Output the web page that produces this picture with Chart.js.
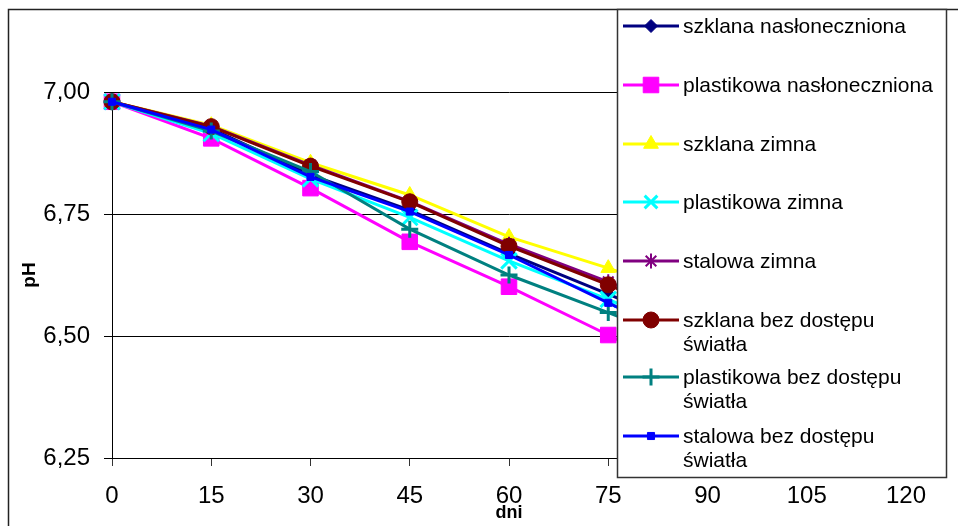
<!DOCTYPE html>
<html>
<head>
<meta charset="utf-8">
<script src="https://cdn.jsdelivr.net/npm/chart.js@4/dist/chart.umd.min.js"></script>
<style>
  html, body { margin: 0; padding: 0; background: #fff; }
  #wrap { width: 958px; height: 526px; position: relative; }
</style>
</head>
<body>
<div id="wrap"><canvas id="c" width="958" height="526"></canvas></div>
<script>
// ---- data ----
const days = [0, 15, 30, 45, 60, 75, 90];
const seriesNames = [
  'szklana nasłoneczniona',
  'plastikowa nasłoneczniona',
  'szklana zimna',
  'plastikowa zimna',
  'stalowa zimna',
  'szklana bez dostępu\nświatła',
  'plastikowa bez dostępu\nświatła',
  'stalowa bez dostępu\nświatła'
];
const szklanaNaslon   = [6.98, 6.925, 6.830, 6.758, 6.669, 6.586, 6.50];
const plastikNaslon   = [6.98, 6.905, 6.803, 6.693, 6.601, 6.502, 6.40];
const szklanaZimna    = [6.98, 6.932, 6.855, 6.789, 6.703, 6.639, 6.57];
const plastikZimna    = [6.98, 6.915, 6.822, 6.743, 6.654, 6.575, 6.49];
const stalowaZimna    = [6.98, 6.930, 6.850, 6.776, 6.688, 6.611, 6.53];
const szklanaCiemna   = [6.98, 6.929, 6.848, 6.775, 6.684, 6.605, 6.52];
const plastikCiemna   = [6.98, 6.920, 6.837, 6.719, 6.625, 6.548, 6.47];
const stalowaCiemna   = [6.98, 6.923, 6.826, 6.755, 6.666, 6.568, 6.47];
const yTickValues = [6.25, 6.50, 6.75, 7.00];
const xTickValues = [0, 15, 30, 45, 60, 75, 90, 105, 120];

const allSeries = [szklanaNaslon, plastikNaslon, szklanaZimna, plastikZimna,
                   stalowaZimna, szklanaCiemna, plastikCiemna, stalowaCiemna];
const colors = ['#000080', '#FF00FF', '#FFFF00', '#00FFFF', '#800080', '#800000', '#008080', '#0000FF'];
const styles = [
  {ps: 'rectRot',  r: 6.5, bw: 1, fill: true},
  {ps: 'rect',     r: 11,  bw: 1, fill: true},
  {ps: 'triangle', r: 8.5, bw: 1, fill: true},
  {ps: 'crossRot', r: 11,  bw: 3, fill: false},
  {ps: 'star',     r: 7.5, bw: 2, fill: false},
  {ps: 'circle',   r: 8,   bw: 1, fill: true},
  {ps: 'cross',    r: 8.5, bw: 3, fill: false},
  {ps: 'rect',     r: 5,   bw: 1, fill: true}
];

const FONT = "'Liberation Sans', Arial, sans-serif";
const n = allSeries.length;
const datasets = allSeries.map((vals, i) => ({
  label: seriesNames[i],
  data: days.map((d, k) => ({x: d, y: vals[k]})),
  borderColor: colors[i],
  backgroundColor: colors[i],
  borderWidth: 3,
  pointStyle: styles[i].ps,
  pointRadius: styles[i].r,
  pointBorderWidth: styles[i].bw,
  pointBackgroundColor: colors[i],
  pointBorderColor: colors[i],
  tension: 0,
  clip: false,
  order: n - i
}));

function drawMarker(ctx, i, x, y) {
  const s = styles[i];
  ctx.save();
  ctx.fillStyle = colors[i];
  ctx.strokeStyle = colors[i];
  ctx.lineWidth = s.bw;
  if (Chart.helpers && Chart.helpers.drawPoint) {
    const r = (s.ps === 'crossRot') ? 9 : s.r;
    Chart.helpers.drawPoint(ctx, {pointStyle: s.ps, radius: r, rotation: 0, borderWidth: s.bw}, x, y);
  }
  ctx.restore();
}

const frameAndLegend = {
  id: 'frameAndLegend',
  beforeDraw(chart) {
    const ctx = chart.ctx;
    ctx.save();
    ctx.fillStyle = '#fff';
    ctx.fillRect(0, 0, chart.width, chart.height);
    ctx.strokeStyle = '#222';
    ctx.lineWidth = 1.5;
    ctx.beginPath();
    ctx.moveTo(8.5, chart.height + 5);
    ctx.lineTo(8.5, 9.5);
    ctx.lineTo(chart.width + 5, 9.5);
    ctx.stroke();
    ctx.restore();
  },
  afterDraw(chart) {
    const ctx = chart.ctx;
    const L = 617, T = 9, R = 947, B = 478;
    ctx.save();
    ctx.fillStyle = '#fff';
    ctx.fillRect(L, T, R - L, B - T);
    ctx.strokeStyle = '#333';
    ctx.lineWidth = 1.5;
    ctx.strokeRect(L + 0.5, T + 0.5, R - L - 1, B - T - 1);
    const rowY = [26, 85, 144, 202, 261, 320, 377, 436];
    ctx.font = '21px ' + FONT;
    ctx.textBaseline = 'middle';
    ctx.textAlign = 'left';
    for (let i = 0; i < n; i++) {
      const y = rowY[i];
      ctx.strokeStyle = colors[i];
      ctx.lineWidth = 3;
      ctx.beginPath();
      ctx.moveTo(623, y);
      ctx.lineTo(679, y);
      ctx.stroke();
      drawMarker(ctx, i, 651, y);
      ctx.fillStyle = '#000';
      const lines = seriesNames[i].split('\n');
      lines.forEach((t, k) => ctx.fillText(t, 683, y + 1 + k * 24));
    }
    ctx.restore();
  }
};

new Chart(document.getElementById('c'), {
  type: 'line',
  data: { datasets },
  options: {
    responsive: false,
    animation: false,
    devicePixelRatio: 1,
    layout: { padding: { left: 18, right: 52, top: 92, bottom: 4 } },
    plugins: { legend: { display: false }, tooltip: { enabled: false } },
    scales: {
      x: {
        type: 'linear',
        min: 0, max: 120,
        afterBuildTicks(scale) { scale.ticks = xTickValues.map(v => ({value: v})); },
        afterFit(scale) { scale.height = 64; },
        ticks: { color: '#000', font: { family: FONT, size: 24 }, padding: 16, maxRotation: 0, autoSkip: false },
        grid: { drawOnChartArea: false, drawTicks: true, tickLength: 8, color: '#333', lineWidth: 1 },
        border: { display: true, color: '#000', width: 1 },
        title: { display: true, text: 'dni', color: '#000', font: { family: FONT, size: 18, weight: 'bold', lineHeight: 1 }, padding: 0 }
      },
      y: {
        min: 6.25, max: 7.00,
        afterBuildTicks(scale) { scale.ticks = yTickValues.map(v => ({value: v})); },
        afterFit(scale) { scale.width = 94; },
        ticks: { color: '#000', font: { family: FONT, size: 24 }, padding: 14,
                 callback: v => Number(v).toFixed(2).replace('.', ',') },
        grid: { drawOnChartArea: true, drawTicks: true, tickLength: 8, color: '#000', lineWidth: 1 },
        border: { display: true, color: '#000', width: 1 },
        title: { display: true, text: 'pH', color: '#000', font: { family: FONT, size: 19, weight: 'bold', lineHeight: 1.2 }, padding: 0 }
      }
    }
  },
  plugins: [frameAndLegend]
});
</script>
</body>
</html>
